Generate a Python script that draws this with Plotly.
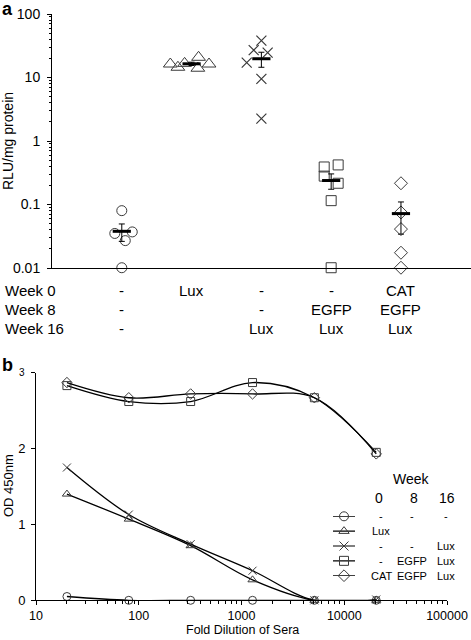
import plotly.graph_objects as go
import numpy as np

W, H = 471, 640
def px(x):
    return x / W
def py(y):
    return 1 - y / H

FONT = "Liberation Sans, Arial, sans-serif"
MK = "#3a3a3a"

# ---------------- Panel a data ----------------
group_pos = [1, 2, 3, 4, 5]
circle_vals = [0.08, 0.035, 0.037, 0.027, 0.0101]
circle_jit = [0.0, -0.1, 0.15, 0.05, 0.0]
tri_vals = [16.3, 14.5, 16.7, 20.8, 14.0, 16.3]
tri_jit = [-0.305, -0.196, -0.1, 0.1, 0.09, 0.25]
cross_vals = [17.1, 27.0, 38.0, 24.6, 9.5, 2.25]
cross_jit = [-0.21, -0.11, 0.0, 0.09, 0.0, 0.0]
square_vals = [0.39, 0.42, 0.28, 0.216, 0.115, 0.0101]
square_jit = [-0.1, 0.1, -0.1, 0.1, 0.0, 0.0]
diamond_vals = [0.216, 0.075, 0.041, 0.0174, 0.0101]
diamond_jit = [0.0, 0.0, 0.0, 0.0, 0.0]

week0_a = ["-", "Lux", "-", "-", "CAT"]
week8_a = ["-", "", "-", "EGFP", "EGFP"]
week16_a = ["-", "", "Lux", "Lux", "Lux"]

y_tickvals_a = [0.01, 0.1, 1, 10, 100]
y_ticktext_a = ["0.01", "0.1", "1", "10", "100"]

# ---------------- Panel b data ----------------
dilution = [20, 80, 320, 1280, 5120, 20480]
od_circle = [0.05, 0.0, 0.0, 0.0, 0.0, 0.0]
od_triangle = [1.40, 1.07, 0.72, 0.27, 0.0, 0.0]
od_cross = [1.75, 1.13, 0.74, 0.39, 0.0, 0.01]
od_square = [2.83, 2.62, 2.62, 2.87, 2.67, 1.95]
od_diamond = [2.87, 2.67, 2.72, 2.72, 2.67, 1.93]

x_tickvals_b = [10, 100, 1000, 10000, 100000]
x_ticktext_b = ["10", "100", "1000", "10000", "100000"]

leg_week0 = ["-", "Lux", "-", "-", "CAT"]
leg_week8 = ["-", "", "-", "EGFP", "EGFP"]
leg_week16 = ["-", "", "Lux", "Lux", "Lux"]

symbols = ["circle-open", "triangle-up-open", "x-thin-open", "square-open", "diamond-open"]

fig = go.Figure()

# ---- Panel a scatter ----
groups = [circle_vals, tri_vals, cross_vals, square_vals, diamond_vals]
jits = [circle_jit, tri_jit, cross_jit, square_jit, diamond_jit]
sizes_a = [10, 12, 10, 10, 10]
for i, (vals, jit) in enumerate(zip(groups, jits)):
    sym = symbols[i]
    mline = dict(color=MK, width=1)
    if sym == "x-thin-open":
        mline = dict(color=MK, width=1.2)
    fig.add_trace(go.Scatter(
        x=[group_pos[i] + j for j in jit], y=vals, mode="markers",
        marker=dict(symbol=sym, size=sizes_a[i], color=MK, line=mline),
        cliponaxis=False, showlegend=False, xaxis="x", yaxis="y"))

means = [float(np.mean(v)) for v in groups]
sems = [float(np.std(v, ddof=1) / np.sqrt(len(v))) for v in groups]
fig.add_trace(go.Scatter(
    x=group_pos, y=means, mode="markers",
    marker=dict(symbol="line-ew", size=13, color="black", line=dict(color="black", width=3)),
    error_y=dict(type="data", array=sems, visible=True, thickness=1, width=3, color="black"),
    cliponaxis=False, showlegend=False, xaxis="x", yaxis="y"))

# ---- Panel b lines ----
ods = [od_circle, od_triangle, od_cross, od_square, od_diamond]
for i, od in enumerate(ods):
    sym = symbols[i]
    fig.add_trace(go.Scatter(
        x=dilution, y=od, mode="lines+markers",
        line=dict(color="black", width=1.3, shape="spline", smoothing=1.0),
        marker=dict(symbol=sym, size=8, color=MK, line=dict(color=MK, width=1)),
        cliponaxis=False, showlegend=False, xaxis="x2", yaxis="y2"))

# ---- Legend symbols (own small axes) ----
for i in range(len(ods)):
    fig.add_trace(go.Scatter(
        x=[0, 0.5, 1], y=[i, i, i], mode="lines+markers",
        line=dict(color="black", width=1.2),
        marker=dict(symbol=symbols[i], size=9, color=MK, opacity=[0, 1, 0],
                    line=dict(color=MK, width=1)),
        cliponaxis=False, showlegend=False, hoverinfo="skip", xaxis="x3", yaxis="y3"))

minor_a = [k * 10.0 ** n for n in range(-2, 2) for k in range(2, 10)]
minor_b = [k * 10.0 ** n for n in range(1, 5) for k in range(2, 10)]

fig.update_layout(
    width=W, height=H, margin=dict(l=0, r=0, t=0, b=0, autoexpand=False),
    paper_bgcolor="white", plot_bgcolor="white",
    font=dict(family=FONT, color="black"),
    xaxis=dict(domain=[px(52), px(470.75)], range=[0, 6], showline=True, linecolor="black",
               linewidth=1, showticklabels=False, ticks="", showgrid=False, zeroline=False,
               anchor="y", automargin=False),
    yaxis=dict(domain=[py(268), py(14)], type="log", range=[-2, 2], showline=True,
               linecolor="black", linewidth=1, ticks="outside", ticklen=4, tickcolor="black",
               tickmode="array", tickvals=y_tickvals_a, ticktext=y_ticktext_a,
               tickfont=dict(family=FONT, size=14, color="black"), ticklabelstandoff=4,
               automargin=False,
               minor=dict(tickmode="array", tickvals=minor_a, ticks="outside", ticklen=2,
                          tickcolor="black", showgrid=False),
               showgrid=False, zeroline=False, anchor="x"),
    xaxis2=dict(domain=[px(36), px(447)], type="log", range=[1, 5], showline=True,
                linecolor="black", linewidth=1, ticks="outside", ticklen=4, tickcolor="black",
                tickmode="array", tickvals=x_tickvals_b, ticktext=x_ticktext_b,
                tickfont=dict(family=FONT, size=12.5, color="black"), automargin=False,
                minor=dict(tickmode="array", tickvals=minor_b, ticks="outside", ticklen=3,
                           tickcolor="black", showgrid=False),
                showgrid=False, zeroline=False, anchor="y2"),
    yaxis2=dict(domain=[py(600.3), py(372.7)], range=[0, 3], showline=True, linecolor="black",
                linewidth=1, ticks="outside", ticklen=4, tickcolor="black",
                tickmode="array", tickvals=[0, 1, 2, 3], ticktext=["0", "1", "2", ""],
                tickfont=dict(family=FONT, size=13, color="black"), showgrid=False,
                zeroline=False, anchor="x2", ticklabelstandoff=3, automargin=False),
    xaxis3=dict(domain=[px(333), px(355)], range=[0, 1], visible=False, anchor="y3",
                automargin=False),
    yaxis3=dict(domain=[py(575.7), py(516.3)], range=[4, 0], visible=False, anchor="x3",
                automargin=False),
)

ann = []
def A(text, x, y, size, xref="paper", xanchor="center", bold=False, angle=0):
    ann.append(dict(text=("<b>%s</b>" % text) if bold else text, x=x, y=y, xref=xref,
                    yref="paper", xanchor=xanchor, yanchor="middle", showarrow=False,
                    textangle=angle, font=dict(family=FONT, size=size, color="black")))

A("a", px(0), py(9), 18, xanchor="left", bold=True)
A("b", px(0), py(365), 18, xanchor="left", bold=True)
A("RLU/mg protein", px(8), py(141), 14, angle=-90)
A("OD 450nm", px(8), py(486), 13, angle=-90)
A("Fold Dilution of Sera", px(242), py(630), 12.5)
A("3", px(22), py(372), 10)

row_y = [290, 309, 328]
for lab, y in zip(["Week 0", "Week 8", "Week 16"], row_y):
    A(lab, px(3), py(y), 15, xanchor="left")
for row, y in zip([week0_a, week8_a, week16_a], row_y):
    for gx, t in zip(group_pos, row):
        if t:
            A(t, gx, py(y), 15, xref="x")

A("Week", px(411), py(479), 14)
for t, x in zip(["0", "8", "16"], [379, 414, 447]):
    A(t, px(x), py(497.7), 14)
leg_rows = [516.3, 531, 546, 561, 575.7]
for r, y in enumerate(leg_rows):
    for col, x in zip([leg_week0, leg_week8, leg_week16], [381, 412, 446]):
        if col[r]:
            A(col[r], px(x), py(y), 11)

fig.update_layout(annotations=ann)
fig.write_html("out.html", config={"displayModeBar": False},
               post_script="document.body.style.margin='0px';document.body.style.padding='0px';")
